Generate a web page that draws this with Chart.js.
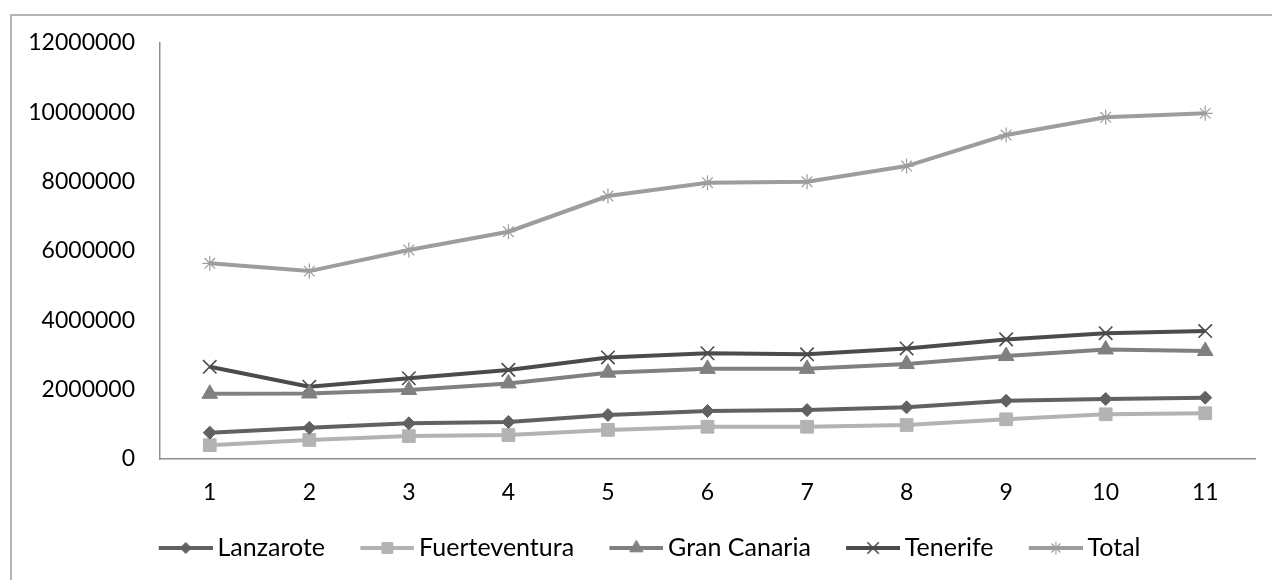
<!DOCTYPE html>
<html>
<head>
<meta charset="utf-8">
<script src="https://cdn.jsdelivr.net/npm/chart.js@4"></script>
<style>
  html, body { margin: 0; padding: 0; background: #fff; overflow: hidden; width: 1272px; height: 580px; }
  #frame { position: absolute; left: 10px; top: 14px; width: 1300px; height: 620px; border: 2px solid #b4b4b4; box-sizing: border-box; }
  #c { position: absolute; left: 0; top: 0; }
</style>
</head>
<body>
<div id="frame"></div>
<canvas id="c" width="1300" height="580"></canvas>
<script>
// Tourist arrivals per island, periods 1-11
const categories = ['1', '2', '3', '4', '5', '6', '7', '8', '9', '10', '11'];
const lanzarote     = [760000, 900000, 1030000, 1070000, 1270000, 1385000, 1410000, 1490000, 1680000, 1730000, 1770000];
const fuerteventura = [400000, 550000, 660000, 690000, 840000, 930000, 930000, 980000, 1145000, 1290000, 1320000];
const granCanaria   = [1880000, 1890000, 1990000, 2180000, 2490000, 2600000, 2600000, 2740000, 2970000, 3160000, 3115000];
const tenerife      = [2660000, 2085000, 2330000, 2570000, 2930000, 3050000, 3020000, 3190000, 3450000, 3630000, 3690000];
const total         = [5645000, 5420000, 6030000, 6556000, 7586000, 7970000, 8000000, 8450000, 9345000, 9856000, 9970000];
const seriesNames   = ['Lanzarote', 'Fuerteventura', 'Gran Canaria', 'Tenerife', 'Total'];
const yMin = 0, yMax = 12000000, yStep = 2000000;

const FONT = 'Lato, "Open Sans", sans-serif';

const styles = [
  { color: '#616161', point: 'rectRot',  radius: 6.5, pbw: 1,   fill: true },
  { color: '#b3b3b3', point: 'rect',     radius: 9,   pbw: 1,   fill: true },
  { color: '#808080', point: 'triangle', radius: 9,   pbw: 1,   fill: true },
  { color: '#4b4b4b', point: 'crossRot', radius: 9.5, pbw: 1.6, fill: false },
  { color: '#9d9d9d', point: 'star',     radius: 7.5, pbw: 1.2, fill: false }
];
const values = [lanzarote, fuerteventura, granCanaria, tenerife, total];

// Legend swatch: a short line with the series marker in the middle,
// placed on the right part of a transparent strip so it sits next to its label
function swatch(s) {
  const cv = document.createElement('canvas');
  cv.width = 80; cv.height = 22;
  const ctx = cv.getContext('2d');
  ctx.strokeStyle = s.color;
  ctx.lineWidth = 4;
  ctx.beginPath(); ctx.moveTo(26, 11); ctx.lineTo(80, 11); ctx.stroke();
  ctx.fillStyle = s.color;
  ctx.strokeStyle = s.color;
  ctx.lineWidth = s.pbw;
  Chart.helpers.drawPoint(ctx, { pointStyle: s.point, radius: s.radius * 0.85, rotation: 0, borderWidth: s.pbw }, 53, 11);
  return cv;
}

const datasets = seriesNames.map((name, i) => {
  const s = styles[i];
  return {
    label: name,
    data: values[i],
    borderColor: s.color,
    backgroundColor: s.color,
    borderWidth: 4,
    tension: 0,
    pointStyle: s.point,
    pointRadius: s.radius,
    pointBorderWidth: s.pbw,
    pointBackgroundColor: s.fill ? s.color : 'transparent',
    pointBorderColor: s.color,
    pointHoverRadius: s.radius
  };
});

// The legend is centred on the whole frame rather than on the plot column
const legendShift = {
  id: 'legendShift',
  afterLayout(chart) {
    if (chart.legend) {
      chart.legend.left += 8;
      chart.legend.right += 8;
    }
  }
};

new Chart(document.getElementById('c'), {
  type: 'line',
  data: { labels: categories, datasets },
  plugins: [legendShift],
  options: {
    responsive: false,
    animation: false,
    layout: { padding: { left: 10, right: 45, top: 43, bottom: 9.5 } },
    plugins: {
      tooltip: { enabled: false },
      legend: {
        position: 'bottom',
        align: 'center',
        labels: {
          usePointStyle: true,
          pointStyleWidth: 64.5,
          padding: 17,
          color: '#000',
          font: { family: FONT, size: 25 },
          generateLabels(chart) {
            return chart.data.datasets.map((ds, i) => ({
              text: ds.label,
              pointStyle: swatch(styles[i]),
              fillStyle: ds.borderColor,
              strokeStyle: ds.borderColor,
              lineWidth: 0,
              hidden: false,
              datasetIndex: i,
              fontColor: '#000'
            }));
          }
        }
      }
    },
    scales: {
      x: {
        offset: true,
        grid: { display: false, drawTicks: false, offset: true },
        border: { display: true, color: '#8e8e8e', width: 1.5 },
        ticks: { color: '#000', font: { family: FONT, size: 23 }, padding: 20, maxRotation: 0 },
        afterFit(scale) { scale.height = 59.5; }
      },
      y: {
        min: yMin, max: yMax,
        grid: { display: false, drawTicks: false },
        border: { display: true, color: '#8e8e8e', width: 1.5 },
        ticks: {
          stepSize: yStep,
          color: '#000',
          font: { family: FONT, size: 23 },
          padding: 25,
          callback: v => String(v)
        },
        afterFit(scale) { scale.width = 150; }
      }
    }
  }
});
</script>
</body>
</html>
